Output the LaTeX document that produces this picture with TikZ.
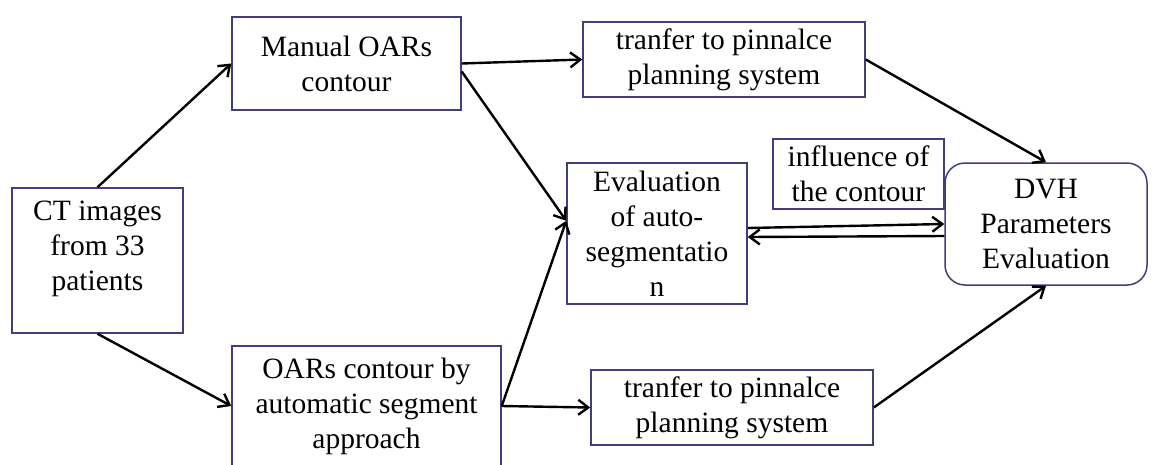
\documentclass[tikz,border=0pt]{standalone}
\usepackage{fontspec}
\setmainfont{Liberation Serif}
\usetikzlibrary{arrows.meta}

\definecolor{BoxLine}{HTML}{3F3F7F}

\tikzset{
  box/.style={draw=BoxLine, line width=1.5pt, fill=white, align=center, inner sep=0pt,
    font=\fontsize{29.5}{35}\selectfont},
  arr/.style={line width=2.4pt, -{Straight Barb[length=10pt,width=15pt]}}
}

\begin{document}
\begin{tikzpicture}[x=1pt, y=-1pt]

 \useasboundingbox (0,0) rectangle (1153,464);

 %%%%%%%%%% Boxes %%%%%%%%%%
 \node[box, minimum width=171pt, minimum height=145pt] (ct) at (97.5,260.5) {CT images\\from 33\\patients\\[-5pt]\mbox{}};
 \node[box, minimum width=229pt, minimum height=93pt] (manual) at (346.5,63.5) {Manual OARs\\contour};
 \node[box, minimum width=269pt, minimum height=120pt] (auto) at (366.5,406) {OARs contour by\\automatic segment\\approach};
 \node[box, minimum width=282pt, minimum height=75pt] (tr1) at (724,59.5) {tranfer to pinnalce\\planning system};
 \node[box, minimum width=282pt, minimum height=75pt] (tr2) at (732,407.5) {tranfer to pinnalce\\planning system};
 \node[box, minimum width=180pt, minimum height=141pt] (eval) at (657,233.5) {Evaluation\\of auto-\\segmentatio\\n};
 \node[box, minimum width=171pt, minimum height=70pt] (infl) at (858.5,174) {influence of\\the contour};
 \node[box, rounded corners=20pt, minimum width=202pt, minimum height=122pt] (dvh) at (1046,224) {DVH\\Parameters\\Evaluation};

 %%%%%%%%%% Arrows %%%%%%%%%%
 \draw[arr] (ct.north) -- (manual.west);
 \draw[arr] (ct.south) -- (auto.west);
 \draw[arr] (manual.east) -- (tr1.west);
 \draw[arr] (manual.-4) -- (eval.172);
 \draw[arr] (auto.east) -- (tr2.west);
 \draw[arr] (auto.east) -- (eval.172);
 \draw[arr] (tr1.east) -- (dvh.north);
 \draw[arr] (tr2.east) -- (dvh.south);

 %%%%%%%%%% Back and forth %%%%%%%%%%
 \draw[arr] ([yshift=5.5pt]eval.east) -- (dvh.west);
 \draw[arr] ([yshift=-12pt]dvh.west) -- ([yshift=-3.5pt]eval.east);

\end{tikzpicture}
\end{document}
